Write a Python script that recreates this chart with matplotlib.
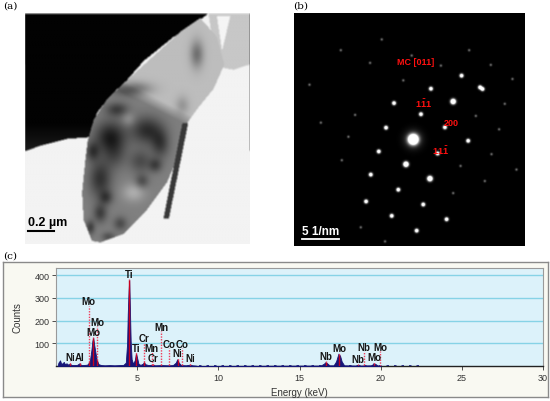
import numpy as np
import matplotlib
matplotlib.use('Agg')
import matplotlib.pyplot as plt
from matplotlib.path import Path

plt.rcParams['font.family'] = ['Liberation Sans', 'DejaVu Sans']
plt.rcParams['mathtext.fontset'] = 'custom'
plt.rcParams['mathtext.bf'] = 'Liberation Sans:bold'
plt.rcParams['mathtext.rm'] = 'Liberation Sans'

W, H = 550, 402

# ---- datos del espectro EDS (c) ----
energy = [0.10, 0.15, 0.25, 0.32, 0.40, 0.48, 0.55, 0.65, 0.75, 0.85, 0.95, 1.10, 1.30, 1.45,
          1.55, 1.80, 1.92, 2.00, 2.10, 2.18, 2.24, 2.29, 2.36, 2.44, 2.52, 2.62, 2.80, 3.00,
          3.30, 3.60, 3.90, 4.15, 4.30, 4.38, 4.42, 4.47, 4.51, 4.55, 4.60, 4.66, 4.75, 4.85,
          4.93, 5.00, 5.08, 5.20, 5.35, 5.42, 5.50, 5.70, 5.95, 6.10, 6.50, 6.90, 7.20, 7.38,
          7.47, 7.56, 7.70, 8.00, 8.26, 8.40, 8.60, 8.70,
          16.30, 16.50, 16.60, 16.70, 16.85, 17.10, 17.25, 17.40, 17.50, 17.60, 17.75, 18.50,
          18.62, 18.75, 19.45, 19.55, 19.65, 19.80, 20.00]
counts = [0, 15, 25, 10, 12, 18, 8, 12, 6, 10, 5, 4, 5, 12,
          4, 5, 6, 12, 30, 70, 110, 125, 90, 55, 25, 8, 4, 3,
          4, 3, 4, 5, 15, 100, 230, 330, 380, 265, 110, 30, 10, 25,
          55, 35, 10, 5, 10, 17, 8, 4, 6, 3, 4, 3, 4, 15,
          30, 15, 4, 3, 6, 3, 2, 0,
          2, 10, 17, 12, 3, 3, 20, 55, 45, 20, 3, 2,
          6, 2, 3, 12, 10, 3, 0]

el_names = ['Ni', 'Al', 'Mo', 'Mo', 'Mo', 'Ti', 'Ti', 'Cr', 'Mn', 'Cr', 'Mn', 'Co', 'Co',
            'Ni', 'Ni', 'Nb', 'Mo', 'Nb', 'Nb', 'Mo', 'Mo']
el_energy = [0.85, 1.47, 2.02, 2.52, 2.29, 4.51, 4.93, 5.41, 5.90, 5.95, 6.49, 6.95, 7.76,
             7.49, 8.26, 16.62, 17.45, 18.62, 18.95, 19.60, 19.96]
el_label_y = [40, 40, 285, 195, 150, 405, 80, 123, 80, 37, 173, 98, 98,
              57, 37, 44, 79, 31, 85, 38, 84]

# ---- manchas del patron de difraccion (b), en px de la imagen ----
spot_x = [119.3, 137, 159.3, 100, 127, 92, 151, 174.3, 84.7, 143.7, 112, 136, 76.7, 104.3,
          129.3, 72, 97.7, 152.7, 122.7, 159.3, 166.7, 191, 197.7, 205.3, 182, 188.7, 186.2,
          167.7, 197, 211, 218.7, 109.3, 147, 117.7, 61, 54.3, 47.7, 76, 46.7, 15.3, 26.7,
          87.7, 175.3, 222.7, 66.7, 91]
spot_y = [125.3, 75, 87.7, 89.3, 100.3, 113.7, 113.3, 126.7, 137.3, 139.3, 150, 164.3, 160.3,
          175.3, 190, 187, 201.3, 204.7, 216, 178.7, 151.7, 166.7, 140, 115.3, 102, 75.3, 73.6,
          62, 51.3, 90, 65.3, 66.7, 52, 42, 101, 122.7, 146, 49.3, 36.7, 71, 108.7,
          26, 36.7, 155.3, 212.7, 226.7]
spot_lvl = [3, 1, 2, 1, 1, 1, 1, 1, 1, 1, 2, 2, 1, 1,
            1, 1, 1, 1, 1, 0, 0, 0, 0, 0, 0, 1, 1,
            1, 0, 0, 0, 0, 0, 0, 0, 0, 0, 0, 0, 0, 0,
            0, 0, 0, 0, 0]
b_labels = ['MC [011]', r'$\mathbf{1\bar{1}1}$', '200', r'$\mathbf{11\bar{1}}$']
b_label_x = [122, 129.3, 157, 146.7]
b_label_y = [47.7, 89.3, 108.3, 136]

# ---- formas de la imagen TEM (a), fracciones de la imagen ----
dark_poly = [(0, 0), (0.817, 0), (0.780, 0.027), (0.661, 0.102), (0.527, 0.207), (0.453, 0.290),
             (0.379, 0.357), (0.319, 0.432), (0.297, 0.508), (0.282, 0.538), (0.186, 0.545),
             (0.067, 0.575), (0, 0.598)]
grain2_poly = [(0.817, 0), (1, 0), (1, 0.222), (0.929, 0.245), (0.884, 0.237), (0.840, 0.162)]
gap_poly = [(0.854, 0.012), (0.914, 0.012), (0.877, 0.162)]
grain_poly = [(0.780, 0.020), (0.854, 0.102), (0.887, 0.222), (0.840, 0.327), (0.765, 0.417),
              (0.721, 0.477), (0.691, 0.598), (0.632, 0.733), (0.542, 0.853), (0.438, 0.958),
              (0.334, 0.995), (0.297, 0.988), (0.260, 0.898), (0.253, 0.778), (0.267, 0.643),
              (0.278, 0.553), (0.305, 0.462), (0.364, 0.372), (0.453, 0.290), (0.572, 0.185),
              (0.691, 0.080)]
rod_poly = [(0.700, 0.477), (0.726, 0.477), (0.640, 0.890), (0.616, 0.890)]
blob_u = [0.483, 0.379, 0.542, 0.334, 0.513, 0.602, 0.334, 0.423, 0.765, 0.409, 0.483, 0.40,
          0.30, 0.36, 0.58, 0.46, 0.70, 0.29, 0.52, 0.37]
blob_v = [0.327, 0.538, 0.508, 0.718, 0.643, 0.568, 0.868, 0.913, 0.177, 0.417, 0.778, 0.62,
          0.60, 0.80, 0.66, 0.46, 0.40, 0.93, 0.73, 0.97]
blob_su = [0.08, 0.07, 0.07, 0.05, 0.05, 0.04, 0.03, 0.03, 0.03, 0.05, 0.05, 0.05,
           0.03, 0.03, 0.03, 0.03, 0.03, 0.02, 0.03, 0.03]
blob_sv = [0.03, 0.07, 0.06, 0.08, 0.05, 0.06, 0.04, 0.03, 0.06, 0.03, 0.04, 0.06,
           0.04, 0.03, 0.03, 0.03, 0.04, 0.03, 0.03, 0.02]
blob_amp = [0.30, 0.38, 0.32, 0.30, 0.20, 0.25, 0.25, 0.20, 0.30, 0.25, -0.18, 0.15,
            0.25, 0.22, 0.22, -0.12, 0.15, 0.25, 0.20, 0.18]


def px_axes(fig, l, t, r, b):
    return fig.add_axes([l / W, 1 - b / H, (r - l) / W, (b - t) / H])


def box_blur(img, k):
    out = img.copy()
    for axis in (0, 1):
        acc = np.zeros_like(out)
        for s in range(-k, k + 1):
            acc += np.roll(out, s, axis=axis)
        out = acc / (2 * k + 1)
    return out


fig = plt.figure(figsize=(W / 100, H / 100), dpi=100)
fig.patch.set_facecolor('white')

# ================= (a) =================
N = 300
uu, vv = np.meshgrid(np.linspace(0, 1, N), np.linspace(0, 1, N))
pts = np.column_stack([uu.ravel(), vv.ravel()])


def mask_of(poly):
    return Path(poly).contains_points(pts).reshape(N, N)


img_a = np.full((N, N), 0.95)
m_dark = mask_of(dark_poly)
img_a[m_dark] = (0.01 + 0.10 * np.clip((vv - 0.48) / 0.12, 0, 1))[m_dark]
img_a[mask_of(grain2_poly)] = 0.78
img_a[mask_of(gap_poly)] = 0.96
m_grain = mask_of(grain_poly)
lower = np.clip((vv - (0.30 + 0.5 * (uu - 0.45))) / 0.05, 0, 1)
grain_val = 0.74 - 0.24 * lower
for u0, v0, su, sv, a in zip(blob_u, blob_v, blob_su, blob_sv, blob_amp):
    grain_val = grain_val - a * np.exp(-((uu - u0) ** 2 / su ** 2 + (vv - v0) ** 2 / sv ** 2))
img_a[m_grain] = grain_val[m_grain]
img_a[mask_of(rod_poly)] = 0.22
img_a = box_blur(np.clip(img_a, 0, 1), 1)

ax_a = px_axes(fig, 25, 14, 249, 245)
ax_a.imshow(img_a, cmap='gray', vmin=0, vmax=1, extent=(0, 1, 1, 0), aspect='auto',
            interpolation='bilinear')
ax_a.set_xlim(0, 1)
ax_a.set_ylim(1, 0)
ax_a.axis('off')
ax_a.text(0.015, 0.905, '0.2 µm', fontsize=9, fontweight='bold', color='black', va='center')
ax_a.plot([0.015, 0.13], [0.945, 0.945], color='black', lw=1.5)
fig.text(3 / W, 1 - 6 / H, '(a)', fontsize=7.5, family='DejaVu Serif', va='center')

# ================= (b) =================
NB = 464
bx, by = np.meshgrid(np.linspace(0, 231, NB), np.linspace(0, 231, NB))
img_b = np.zeros((NB, NB))
sig = {0: 0.9, 1: 1.3, 2: 1.7, 3: 3.0}
amp = {0: 0.45, 1: 1.7, 2: 2.4, 3: 3.0}
for x0, y0, lv in zip(spot_x, spot_y, spot_lvl):
    r2 = (bx - x0) ** 2 + (by - y0) ** 2
    img_b += amp[lv] * np.exp(-r2 / (2 * sig[lv] ** 2))
    if lv == 3:
        img_b += 0.35 * np.exp(-r2 / (2 * 6.0 ** 2))
img_b = np.clip(img_b, 0, 1)

ax_b = px_axes(fig, 294, 14, 525, 247)
ax_b.imshow(img_b, cmap='gray', vmin=0, vmax=1, extent=(0, 231, 231, 0), aspect='auto')
ax_b.set_xlim(0, 231)
ax_b.set_ylim(231, 0)
ax_b.axis('off')
for lab, x0, y0 in zip(b_labels, b_label_x, b_label_y):
    ax_b.text(x0, y0, lab, color='#ff1010', fontsize=6.5, fontweight='bold',
              ha='center', va='center')
ax_b.text(26.5, 216, '5 1/nm', color='white', fontsize=8.5, fontweight='bold',
          ha='center', va='center')
ax_b.plot([8, 45], [224.5, 224.5], color='white', lw=1.3)
fig.text(293 / W, 1 - 6 / H, '(b)', fontsize=7.5, family='DejaVu Serif', va='center')

# ================= (c) =================
fig.text(3 / W, 1 - 256 / H, '(c)', fontsize=7.5, family='DejaVu Serif', va='center')
ax_bg = px_axes(fig, 3, 263, 548, 398)
ax_bg.set_facecolor('#f9f9f2')
ax_bg.set_xticks([])
ax_bg.set_yticks([])
for s in ax_bg.spines.values():
    s.set_color('#8a8a8a')
    s.set_linewidth(1.0)

ax_c = px_axes(fig, 56, 269, 543, 367)
ax_c.set_facecolor('#dcf2fa')
ax_c.set_xlim(0, 30)
ax_c.set_ylim(0, 432)
for yv in [100, 200, 300, 400]:
    ax_c.axhline(yv, color='#86d3e6', lw=1.0, zorder=1)

ax_c.fill_between(energy, counts, color='#151578', lw=0.6, zorder=3)
ax_c.plot([8.8, 22.6], [1.5, 1.5], color='#151578', lw=1.2, ls=(0, (1.5, 3)), zorder=3)

peak_h = np.interp(el_energy, energy, counts)
ax_c.vlines(el_energy, 0, peak_h, color='#c8001e', lw=1.0, zorder=4)
for name, e, ly, ph in zip(el_names, el_energy, el_label_y, peak_h):
    ax_c.plot([e, e], [ph, ly - 20], color='#f03c5a', lw=1.0, ls=(0, (1, 1)), zorder=4)
    ax_c.text(e, ly, name, fontsize=7, fontweight='bold', color='#151515',
              ha='center', va='center', zorder=5)

ax_c.set_yticks([100, 200, 300, 400])
ax_c.set_xticks([5, 10, 15, 20, 25, 30])
ax_c.tick_params(axis='both', labelsize=6.5, colors='#333333', length=3, width=0.6, pad=1.5)
ax_c.tick_params(axis='x', pad=2)
for s in ['left', 'top', 'right']:
    ax_c.spines[s].set_color('#9a9a9a')
    ax_c.spines[s].set_linewidth(0.8)
ax_c.spines['bottom'].set_color('#222222')
ax_c.spines['bottom'].set_linewidth(1.0)
ax_c.set_ylabel('Counts', fontsize=7, color='#333333', labelpad=9)
ax_c.set_xlabel('Energy (keV)', fontsize=7, color='#333333', labelpad=4)

fig.savefig('out.png', dpi=100)
